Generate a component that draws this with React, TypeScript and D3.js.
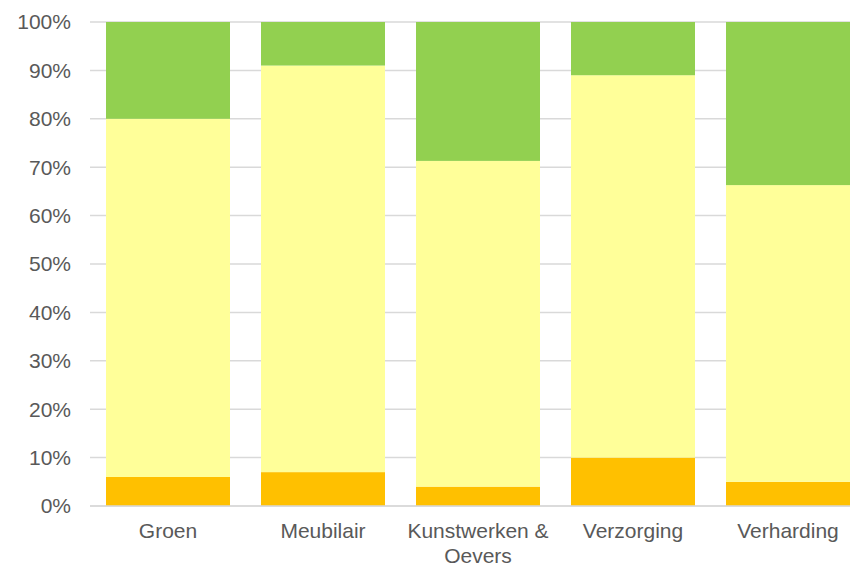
import React from "react";
import * as d3 from "d3";

const categories = ["Groen", "Meubilair", "Kunstwerken & Oevers", "Verzorging", "Verharding"];
const orangeValues = [6, 7, 4, 10, 5];
const yellowValues = [74, 84, 67.3, 79, 61.3];
const greenValues = [20, 9, 28.7, 11, 33.7];
const yTicks = [0, 10, 20, 30, 40, 50, 60, 70, 80, 90, 100];
const seriesColors = ["#FFC000", "#FFFF99", "#92D050"];

const W = 850;
const H = 565;

export default function App() {
  const x = d3.scaleBand<string>().domain(categories).range([90.5, 865.5]).paddingInner(0.2).paddingOuter(0.1);
  const y = d3.scaleLinear().domain([0, 100]).range([506, 22]);

  const rows = categories.map((c, i) => ({ cat: c, o: orangeValues[i], yl: yellowValues[i], g: greenValues[i] }));
  const stack = d3.stack<any>().keys(["o", "yl", "g"]);
  const series = stack(rows);

  const font = "Arial, 'Liberation Sans', sans-serif";

  return (
    <svg width={W} height={H} style={{ position: "absolute", left: 0, top: 0, background: "#fff" }} fontFamily={font}>
      {yTicks.map((t) => (
        <g key={t}>
          <line x1={90} x2={W} y1={y(t)} y2={y(t)} stroke="#D9D9D9" strokeWidth={1.5} />
          <text x={71} y={y(t)} dy="0.35em" textAnchor="end" fontSize={21} fill="#595959">
            {t}%
          </text>
        </g>
      ))}
      {series.map((s, si) => (
        <g key={si} fill={seriesColors[si]}>
          {s.map((d, i) => (
            <rect key={i} x={x(categories[i])} width={x.bandwidth()} y={y(d[1])} height={y(d[0]) - y(d[1])} />
          ))}
        </g>
      ))}
      <line x1={90} x2={W} y1={y(0)} y2={y(0)} stroke="#D9D9D9" strokeWidth={1.5} />
      {categories.map((c) => {
        const cx = (x(c) as number) + x.bandwidth() / 2;
        const lines = c === "Kunstwerken & Oevers" ? ["Kunstwerken &", "Oevers"] : [c];
        return (
          <text key={c} x={cx} y={538} textAnchor="middle" fontSize={21} fill="#595959">
            {lines.map((l, li) => (
              <tspan key={li} x={cx} dy={li === 0 ? 0 : 24.5}>
                {l}
              </tspan>
            ))}
          </text>
        );
      })}
    </svg>
  );
}
